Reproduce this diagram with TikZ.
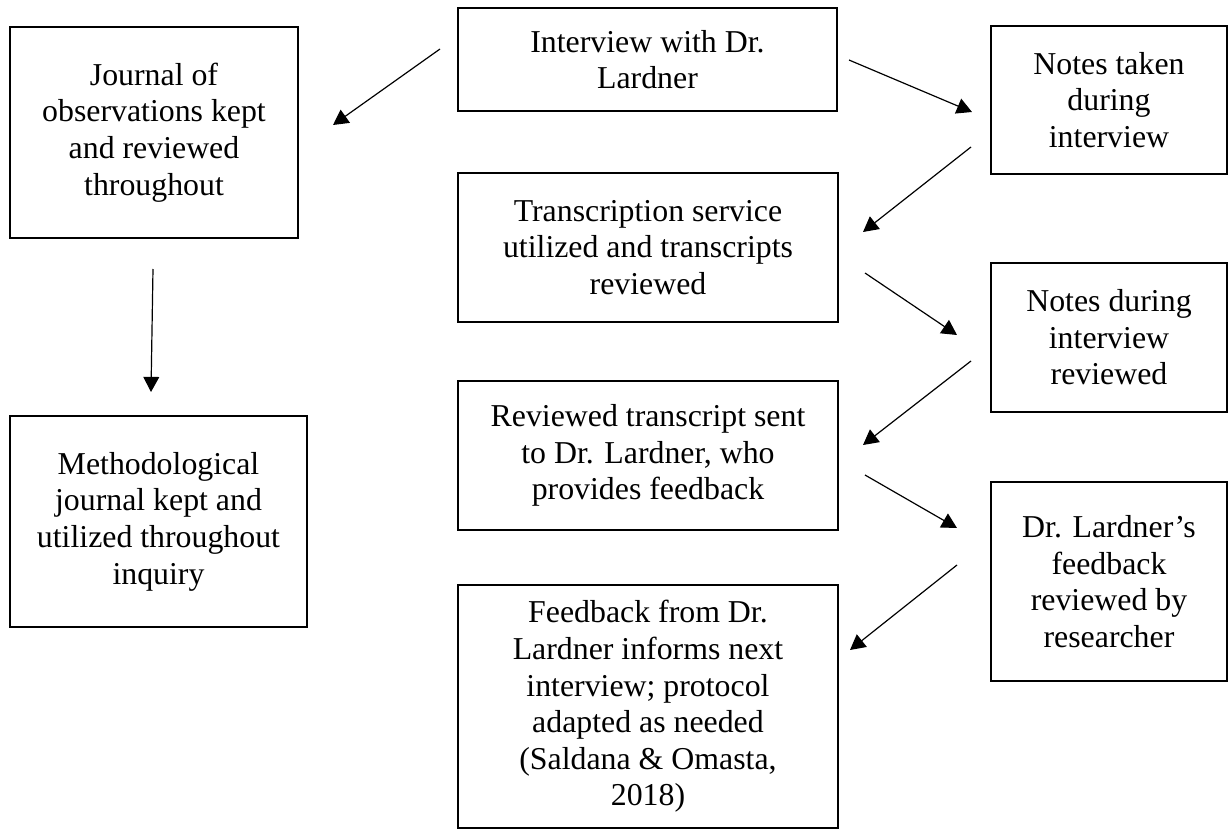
\documentclass[tikz,border=0pt]{standalone}
\usepackage{fontspec}
\setmainfont{Liberation Serif}
\usetikzlibrary{arrows.meta}
\begin{document}
\begin{tikzpicture}[x=0.377pt, y=-0.377pt,
		box/.style={draw, line width=1pt, align=center, inner sep=0pt, font=\fontsize{12}{13.8}\selectfont},
		flow/.style={-{Triangle[length=5.7pt, width=6pt]}, line width=0.45pt}]
		\useasboundingbox (0, 0) rectangle (1228, 830);
		\begin{scope}[every node/.append style={box}]
			\node[minimum width=108.6pt, minimum height=79.5pt] (0) at (154, 132.5) {Journal of\\observations kept\\and reviewed\\throughout};
			\node[minimum width=112pt, minimum height=79.5pt] (1) at (158.5, 521.5) {Methodological\\journal kept and\\utilized throughout\\inquiry};
			\node[minimum width=142.9pt, minimum height=38.8pt] (2) at (647.5, 59.5) {Interview with Dr.\\Lardner};
			\node[minimum width=143.3pt, minimum height=56.2pt] (3) at (648, 247.5) {Transcription service\\utilized and transcripts\\reviewed};
			\node[minimum width=143.3pt, minimum height=56.2pt] (4) at (648, 455.5) {Reviewed transcript sent\\to Dr. Lardner, who\\provides feedback};
			\node[minimum width=143.3pt, minimum height=91.6pt] (5) at (648, 706.5) {Feedback from Dr.\\Lardner informs next\\interview; protocol\\adapted as needed\\(Saldana \& Omasta,\\2018)};
			\node[minimum width=89pt, minimum height=55.8pt] (6) at (1109, 100) {Notes taken\\during\\interview};
			\node[minimum width=89pt, minimum height=56.2pt] (7) at (1109, 337.5) {Notes during\\interview\\reviewed};
			\node[minimum width=89pt, minimum height=75pt] (8) at (1109, 581.5) {Dr. Lardner’s\\feedback\\reviewed by\\researcher};
		\end{scope}

		% free arrow ends between the boxes
		\coordinate (s0) at (153, 269); \coordinate (t0) at (151, 392);
		\coordinate (s1) at (440, 49); \coordinate (t1) at (333, 125);
		\coordinate (s2) at (849, 60); \coordinate (t2) at (972, 112);
		\coordinate (s3) at (971, 147); \coordinate (t3) at (863, 232);
		\coordinate (s4) at (865, 273); \coordinate (t4) at (957, 335);
		\coordinate (s5) at (971, 361); \coordinate (t5) at (863, 445);
		\coordinate (s6) at (865, 475); \coordinate (t6) at (957, 528);
		\coordinate (s7) at (957, 565); \coordinate (t7) at (850, 650);

		\draw[flow] (s0) -- (t0);
		\draw[flow] (s1) -- (t1);
		\draw[flow] (s2) -- (t2);
		\draw[flow] (s3) -- (t3);
		\draw[flow] (s4) -- (t4);
		\draw[flow] (s5) -- (t5);
		\draw[flow] (s6) -- (t6);
		\draw[flow] (s7) -- (t7);
	\end{tikzpicture}
\end{document}
